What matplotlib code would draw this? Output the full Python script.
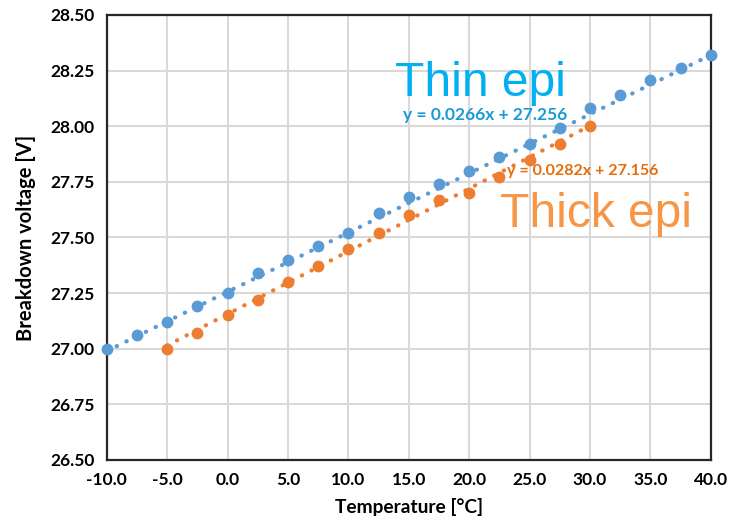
import numpy as np
import matplotlib
matplotlib.use("Agg")
import matplotlib.pyplot as plt

# Measured breakdown voltage vs temperature
temp_thin = [-10, -7.5, -5, -2.5, 0, 2.5, 5, 7.5, 10, 12.5, 15, 17.5, 20,
             22.5, 25, 27.5, 30, 32.5, 35, 37.5, 40]
bv_thin = [27.00, 27.06, 27.12, 27.19, 27.25, 27.34, 27.40, 27.46, 27.52,
           27.61, 27.68, 27.74, 27.80, 27.86, 27.92, 27.99, 28.08, 28.14,
           28.21, 28.26, 28.32]

temp_thick = [-5, -2.5, 0, 2.5, 5, 7.5, 10, 12.5, 15, 17.5, 20, 22.5, 25,
              27.5, 30]
bv_thick = [27.00, 27.07, 27.15, 27.22, 27.30, 27.37, 27.45, 27.52, 27.60,
            27.67, 27.70, 27.77, 27.85, 27.92, 28.00]

# Linear trendline coefficients (slope, intercept)
fit_thin = (0.0266, 27.256)
fit_thick = (0.0282, 27.156)

x_ticks = [-10, -5, 0, 5, 10, 15, 20, 25, 30, 35, 40]
y_ticks = [26.50, 26.75, 27.00, 27.25, 27.50, 27.75, 28.00, 28.25, 28.50]

BLUE = "#5B9BD5"
ORANGE = "#ED7D31"

narrow = ["Lato", "DejaVu Sans"]
plain = ["Liberation Sans", "DejaVu Sans"]

fig = plt.figure(figsize=(7.32, 5.26), dpi=100)
ax = fig.add_axes([0.146, 0.1255, 0.825, 0.846])

ax.set_xlim(-10, 40)
ax.set_ylim(26.5, 28.5)
ax.set_xticks(x_ticks)
ax.set_yticks(y_ticks)
ax.set_xticklabels([f"{v:.1f}" for v in x_ticks], family=narrow,
                   fontweight="bold", fontsize=12.5)
ax.set_yticklabels([f"{v:.2f}" for v in y_ticks], family=narrow,
                   fontweight="bold", fontsize=12.5)
ax.tick_params(length=0, pad=9)
ax.grid(True, color="#D9D9D9", linewidth=1.5)
ax.set_axisbelow(True)
for sp in ax.spines.values():
    sp.set_color("#262626")
    sp.set_linewidth(1.6)

# Trendlines
for temps, (m, b), col in [(temp_thin, fit_thin, BLUE),
                           (temp_thick, fit_thick, ORANGE)]:
    xs = np.array([min(temps), max(temps)])
    ax.plot(xs, m * xs + b, color=col, linewidth=3.0,
            linestyle=(0, (0.1, 2.5)), dash_capstyle="round", zorder=2)

ax.plot(temp_thin, bv_thin, "o", color=BLUE, markersize=7.5, zorder=3,
        clip_on=False)
ax.plot(temp_thick, bv_thick, "o", color=ORANGE, markersize=7.5, zorder=3,
        clip_on=False)

ax.set_xlabel("Temperature [°C]", family=narrow, fontweight="bold",
              fontsize=13.8, labelpad=7)
ax.set_ylabel("Breakdown voltage [V]", family=narrow, fontweight="bold",
              fontsize=14.5, labelpad=10)

# Series labels and trendline equations
ax.text(395 / 732, 1 - 96 / 526, "Thin epi", transform=fig.transFigure,
        family=plain, fontsize=34.5, color="#00B0F0", va="baseline")
ax.text(403 / 732, 1 - 120 / 526, "y = 0.0266x + 27.256",
        transform=fig.transFigure, family=narrow, fontweight="bold",
        fontsize=12.5, color="#1A9AD6", va="baseline")
ax.text(500 / 732, 1 - 227 / 526, "Thick epi", transform=fig.transFigure,
        family=plain, fontsize=34.5, color="#F79646", va="baseline")
ax.text(507 / 732, 1 - 175 / 526, "y = 0.0282x + 27.156",
        transform=fig.transFigure, family=narrow, fontweight="bold",
        fontsize=11.5, color="#E46C0A", va="baseline")

fig.savefig("out.png", dpi=100)
